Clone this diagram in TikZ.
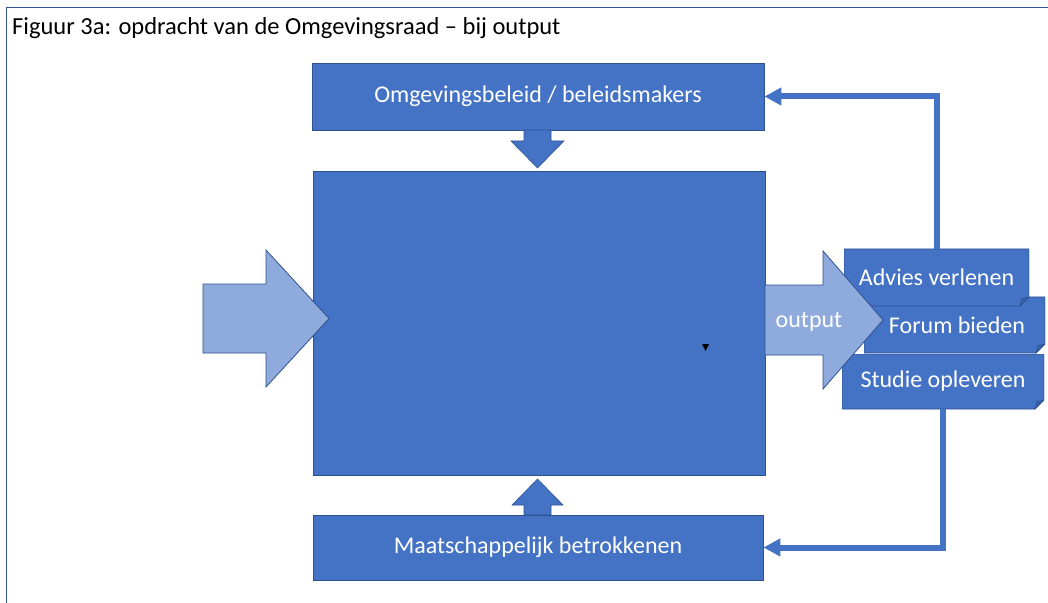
\documentclass[tikz,border=0pt]{standalone}
\usepackage{fontspec}
\setmainfont{Carlito}
\usetikzlibrary{arrows.meta}
\definecolor{boxblue}{HTML}{4472C4}
\definecolor{boxline}{HTML}{2F528F}
\definecolor{lightblue}{HTML}{8FAADC}
\definecolor{folddark}{HTML}{3561AE}
\definecolor{framecol}{HTML}{2F5597}
\begin{document}
\begin{tikzpicture}[x=1bp,y=-1bp,
  boxtxt/.style={text=white,font=\fontsize{24bp}{29bp}\selectfont},
  plainbox/.style n args={2}{boxtxt,rectangle,fill=boxblue,draw=boxline,line width=0.8bp,inner sep=0pt,minimum width=#1,minimum height=#2},
  foldbox/.style n args={2}{boxtxt,rectangle,inner sep=0pt,minimum width=#1,minimum height=#2,
    path picture={
      \fill[boxblue,draw=boxline,line width=0.8bp]
        (path picture bounding box.north west) -- (path picture bounding box.north east)
        -- ([yshift=9bp]path picture bounding box.south east)
        -- ([xshift=-9bp]path picture bounding box.south east)
        -- (path picture bounding box.south west) -- cycle;
      \fill[folddark,draw=boxline,line width=0.6bp]
        ([xshift=-9bp]path picture bounding box.south east)
        -- ([xshift=-7.2bp,yshift=7.2bp]path picture bounding box.south east)
        -- ([yshift=9bp]path picture bounding box.south east) -- cycle;
    }},
  blockarrow/.style={fill=boxblue,draw=boxline,line width=0.6bp},
  lightarrow/.style={fill=lightblue,draw=boxline,line width=0.8bp},
  conn/.style={draw=boxblue,line width=6bp,-{Triangle[length=17bp,width=17bp]}},
  frameline/.style={draw=framecol,line width=1.5bp}
]
\useasboundingbox (0,0) rectangle (1048,603);
\fill[white] (0,0) rectangle (1048,603);

% main boxes
\node[plainbox={452bp}{67bp}] (beleid) at (538,96.5) {\raisebox{-2.5bp}{Omgevingsbeleid / beleidsmakers}};
\node[plainbox={452bp}{304bp}] (main) at (539,323) {};
\node[plainbox={450bp}{65bp}] (maat) at (538,547.5) {\raisebox{-2.5bp}{Maatschappelijk betrokkenen}};

% vertical block arrows
\path[blockarrow] (524,130) -- (551,130) -- (551,141) -- (564,141) -- (537.5,168)
  -- (511,141) -- (524,141) -- cycle;
\path[blockarrow] (524,515) -- (551,515) -- (551,505) -- (563,505) -- (537.5,479)
  -- (512,505) -- (524,505) -- cycle;

% input arrow
\path[lightarrow] (203,284) -- (266,284) -- (266,250) -- (329,318.5) -- (266,387)
  -- (266,353) -- (203,353) -- cycle;

% output boxes
\node[foldbox={181bp}{56bp}] (forum) at (954.5,325) {\hspace*{5bp}Forum bieden};
\node[foldbox={202bp}{55bp}] (studie) at (943,381.5) {Studie opleveren};
\node[foldbox={185bp}{57bp}] (advies) at (936.5,277.5) {\raisebox{-1bp}{Advies verlenen}};

% output arrow
\path[lightarrow] (765,285) -- (823,285) -- (823,251) -- (883,320) -- (823,389)
  -- (823,355) -- (765,355) -- cycle;
\node[boxtxt,inner sep=0pt] (output) at (809,321.5) {output};

% feedback connectors
\draw[conn] (advies.north) |- (beleid.east);
\draw[conn] (studie.south) |- (maat.east);

% small marker
\fill[black] (702,344) -- (709,344) -- (705.5,351) -- cycle;

% title and frame
\node[anchor=base west,inner sep=0pt,font=\fontsize{24.5bp}{29bp}\selectfont] (title) at (12,35)
  {Figuur 3a: opdracht van de Omgevingsraad – bij output};
\draw[frameline] (6.5,620) -- (6.5,7.5) -- (1070,7.5);
\end{tikzpicture}
\end{document}
